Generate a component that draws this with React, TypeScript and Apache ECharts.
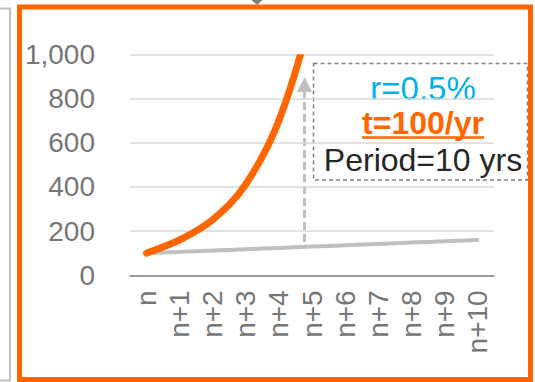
import React, { useEffect, useRef } from "react";
import * as echarts from "echarts";

const categories = ["n", "n+1", "n+2", "n+3", "n+4", "n+5", "n+6", "n+7", "n+8", "n+9", "n+10"];
const compoundValues = [100, 160, 252, 412, 700, 1200, 1950, 3100, 4900, 7800, 12400];
const simpleValues = [100, 106, 112, 118, 124, 130, 136, 142, 148, 154, 160];
const yTicks = { min: 0, max: 1000, interval: 200 };
const noteLines = ["r=0.5%", "t=100/yr", "Period=10 yrs"];

const FONT = "'Liberation Sans', Arial, sans-serif";
const ORANGE = "#FF6600";

export default function App() {
  const ref = useRef<HTMLDivElement>(null);
  useEffect(() => {
    document.body.style.margin = "0";
    const chart = echarts.init(ref.current!, undefined, { renderer: "svg" });
    chart.setOption({
      animation: false,
      backgroundColor: "#ffffff",
      grid: { left: 130, right: 41, top: 54.3, bottom: 106.7, containLabel: false },
      xAxis: {
        type: "category",
        data: categories,
        boundaryGap: true,
        axisLine: { lineStyle: { color: "#868686", width: 1.5 } },
        axisTick: { show: false },
        axisLabel: {
          rotate: 90,
          margin: 15,
          interval: 0,
          color: "#767676",
          fontSize: 28,
          fontFamily: FONT,
        },
      },
      yAxis: {
        type: "value",
        min: yTicks.min,
        max: yTicks.max,
        interval: yTicks.interval,
        axisLine: { show: false },
        axisTick: { show: false },
        splitLine: { lineStyle: { color: "#D9D9D9", width: 1.5 } },
        axisLabel: {
          margin: 35,
          color: "#767676",
          fontSize: 28,
          fontFamily: FONT,
          formatter: (v: number) => v.toLocaleString("en-US"),
        },
      },
      series: [
        {
          type: "line",
          data: simpleValues,
          smooth: true,
          symbol: "none",
          lineStyle: { color: "#BFBFBF", width: 4, cap: "round" },
          z: 2,
        },
        {
          type: "custom",
          clip: true,
          z: 3,
          data: compoundValues.map((v, i) => [i, v]),
          encode: { x: 0, y: 1 },
          renderItem: (params: any, api: any) => {
            if (params.dataIndex !== 0) return null;
            const pts = compoundValues.map((v, i) => api.coord([i, v]));
            const n = pts.length;
            const children: any[] = [];
            for (let i = 0; i < n - 1; i++) {
              const p0 = pts[Math.max(0, i - 1)];
              const p1 = pts[i];
              const p2 = pts[i + 1];
              const p3 = pts[Math.min(n - 1, i + 2)];
              children.push({
                type: "bezierCurve",
                shape: {
                  x1: p1[0],
                  y1: p1[1],
                  x2: p2[0],
                  y2: p2[1],
                  cpx1: p1[0] + (p2[0] - p0[0]) / 6,
                  cpy1: p1[1] + (p2[1] - p0[1]) / 6,
                  cpx2: p2[0] - (p3[0] - p1[0]) / 6,
                  cpy2: p2[1] - (p3[1] - p1[1]) / 6,
                },
                style: { stroke: ORANGE, lineWidth: 7, fill: "none", lineCap: "round" },
              });
            }
            return { type: "group", children };
          },
        },
      ],
      graphic: [
        {
          type: "rect",
          shape: { x: -5, y: 8.5, width: 15, height: 372 },
          style: { fill: "none", stroke: "#BFBFBF", lineWidth: 2 },
          silent: true,
        },
        {
          type: "line",
          shape: { x1: 304.5, y1: 242, x2: 304.5, y2: 90 },
          style: { stroke: "#BFBFBF", lineWidth: 3, lineDash: [8, 4] },
          silent: true,
        },
        {
          type: "polygon",
          shape: { points: [[297, 92], [312, 92], [304.5, 77]] },
          style: { fill: "#BFBFBF" },
          silent: true,
        },
        {
          type: "rect",
          shape: { x: 313.5, y: 63.5, width: 214, height: 116.5 },
          style: { fill: "#ffffff", stroke: "#808080", lineWidth: 1.5, lineDash: [4, 3] },
          silent: true,
        },
        {
          type: "text",
          x: 423,
          y: 88,
          style: {
            text: noteLines[0],
            fill: "#00B0F0",
            font: `33px ${FONT}`,
            textAlign: "center",
            textVerticalAlign: "middle",
          },
          silent: true,
        },
        {
          type: "text",
          x: 423,
          y: 123,
          style: {
            text: noteLines[1],
            fill: ORANGE,
            font: `bold 32px ${FONT}`,
            textAlign: "center",
            textVerticalAlign: "middle",
          },
          silent: true,
        },
        {
          type: "line",
          shape: { x1: 362, y1: 137.5, x2: 484, y2: 137.5 },
          style: { stroke: ORANGE, lineWidth: 2.5 },
          silent: true,
        },
        {
          type: "text",
          x: 423,
          y: 160,
          style: {
            text: noteLines[2],
            fill: "#262626",
            font: `32px ${FONT}`,
            textAlign: "center",
            textVerticalAlign: "middle",
          },
          silent: true,
        },
        {
          type: "polygon",
          shape: { points: [[251.5, 0], [262.5, 0], [257, 5]] },
          style: { fill: "#7F7F7F" },
          silent: true,
        },
        {
          type: "rect",
          shape: { x: 19.5, y: 7, width: 511, height: 372.5 },
          style: { fill: "none", stroke: ORANGE, lineWidth: 5 },
          silent: true,
        },
      ],
    });
    return () => chart.dispose();
  }, []);
  return <div ref={ref} style={{ width: 535, height: 382 }} />;
}
